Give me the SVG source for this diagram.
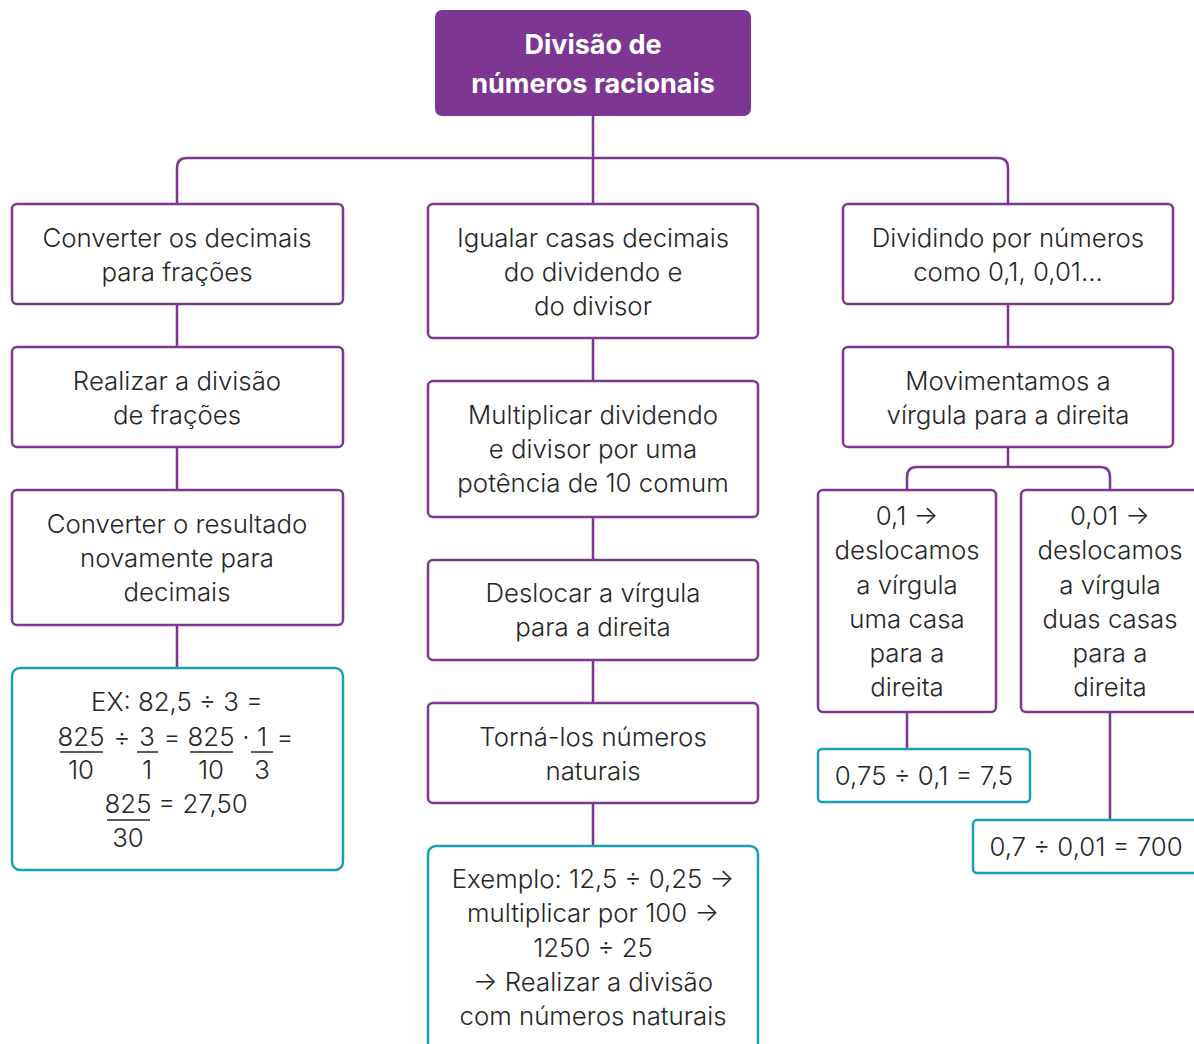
<svg xmlns="http://www.w3.org/2000/svg" width="1194" height="1044" viewBox="0 0 1194 1044">
<style>
.b{fill:#fff;stroke:#7d3792;stroke-width:2.5}
.t{fill:#fff;stroke:#16a0bb;stroke-width:2.5}
.c{fill:none;stroke:#7d3792;stroke-width:2.5}
text{font-family:Inter,"Liberation Sans",sans-serif;font-size:25.8px;font-weight:350;fill:#262626;text-anchor:middle}
.h{font-weight:bold;fill:#fff;font-size:27px}
.fl{stroke:#262626;stroke-width:1.5}
</style>
<rect width="1194" height="1044" fill="#fff"/>
<g id="connectors">
<path class="c" d="M593 116V204"/>
<path class="c" d="M177 204V168Q177 158 187 158H998Q1008 158 1008 168V204"/>
<path class="c" d="M177 304V347M177 447V490M177 625V668"/>
<path class="c" d="M593 338V381M593 517V560M593 660V703M593 803V846"/>
<path class="c" d="M1008 304V347M1008 447V467"/>
<path class="c" d="M907 490V477Q907 467 917 467H1100Q1110 467 1110 477V490"/>
<path class="c" d="M907 712V749M1110 712V820"/>
</g>
<g id="root">
<rect x="435" y="10" width="316" height="106" rx="7" fill="#7d3792"/>
<text class="h" x="593" y="54">Divisão de</text>
<text class="h" x="593" y="93">números racionais</text>
</g>
<g id="l1"><rect class="b" x="12" y="204" width="331" height="100" rx="5"/>
<text x="177" y="247">Converter os decimais</text><text x="177" y="281">para frações</text></g>
<g id="l2"><rect class="b" x="12" y="347" width="331" height="100" rx="5"/>
<text x="177" y="390">Realizar a divisão</text><text x="177" y="424">de frações</text></g>
<g id="l3"><rect class="b" x="12" y="490" width="331" height="135" rx="5"/>
<text x="177" y="533">Converter o resultado</text><text x="177" y="567">novamente para</text><text x="177" y="601">decimais</text></g>
<g id="l4"><rect class="t" x="12" y="668" width="331" height="202" rx="8"/>
<text x="177" y="711">EX: 82,5 ÷ 3 =</text>
<text x="81" y="746">825</text><line class="fl" x1="60" y1="752" x2="103" y2="752"/><text x="81" y="779">10</text>
<text x="122" y="746">÷</text>
<text x="147" y="746">3</text><line class="fl" x1="137" y1="752" x2="158" y2="752"/><text x="147" y="779">1</text>
<text x="172" y="746">=</text>
<text x="211" y="746">825</text><line class="fl" x1="190" y1="752" x2="233" y2="752"/><text x="211" y="779">10</text>
<text x="246" y="746">·</text>
<text x="262" y="746">1</text><line class="fl" x1="251" y1="752" x2="273" y2="752"/><text x="262" y="779">3</text>
<text x="285" y="746">=</text>
<text x="128" y="813">825</text><line class="fl" x1="107" y1="820" x2="150" y2="820"/><text x="128" y="847">30</text>
<text x="203" y="813">= 27,50</text>
</g>
<g id="m1"><rect class="b" x="428" y="204" width="330" height="134" rx="5"/>
<text x="593" y="247">Igualar casas decimais</text><text x="593" y="281">do dividendo e</text><text x="593" y="315">do divisor</text></g>
<g id="m2"><rect class="b" x="428" y="381" width="330" height="136" rx="5"/>
<text x="593" y="424">Multiplicar dividendo</text><text x="593" y="458">e divisor por uma</text><text x="593" y="492">potência de 10 comum</text></g>
<g id="m3"><rect class="b" x="428" y="560" width="330" height="100" rx="5"/>
<text x="593" y="602">Deslocar a vírgula</text><text x="593" y="636">para a direita</text></g>
<g id="m4"><rect class="b" x="428" y="703" width="330" height="100" rx="5"/>
<text x="593" y="746">Torná-los números</text><text x="593" y="780">naturais</text></g>
<g id="m5"><rect class="t" x="428" y="846" width="330" height="210" rx="8"/>
<text x="593" y="888">Exemplo: 12,5 ÷ 0,25 →</text><text x="593" y="922">multiplicar por 100 →</text><text x="593" y="957">1250 ÷ 25</text><text x="593" y="991">→ Realizar a divisão</text><text x="593" y="1025">com números naturais</text></g>
<g id="r1"><rect class="b" x="843" y="204" width="330" height="100" rx="5"/>
<text x="1008" y="247">Dividindo por números</text><text x="1008" y="281">como 0,1, 0,01...</text></g>
<g id="r2"><rect class="b" x="843" y="347" width="330" height="100" rx="5"/>
<text x="1008" y="390">Movimentamos a</text><text x="1008" y="424">vírgula para a direita</text></g>
<g id="r3"><rect class="b" x="818" y="490" width="178" height="222" rx="5"/>
<text x="907" y="525">0,1 →</text><text x="907" y="559">deslocamos</text><text x="907" y="594">a vírgula</text><text x="907" y="628">uma casa</text><text x="907" y="662">para a</text><text x="907" y="696">direita</text></g>
<g id="r4"><rect class="b" x="1021" y="490" width="190" height="222" rx="5"/>
<text x="1110" y="525">0,01 →</text><text x="1110" y="559">deslocamos</text><text x="1110" y="594">a vírgula</text><text x="1110" y="628">duas casas</text><text x="1110" y="662">para a</text><text x="1110" y="696">direita</text></g>
<g id="r5"><rect class="t" x="818" y="749" width="212" height="53" rx="4"/>
<text x="924" y="785">0,75 ÷ 0,1 = 7,5</text></g>
<g id="r6"><rect class="t" x="973" y="820" width="240" height="53" rx="4"/>
<text x="1086" y="856">0,7 ÷ 0,01 = 700</text></g>
</svg>
